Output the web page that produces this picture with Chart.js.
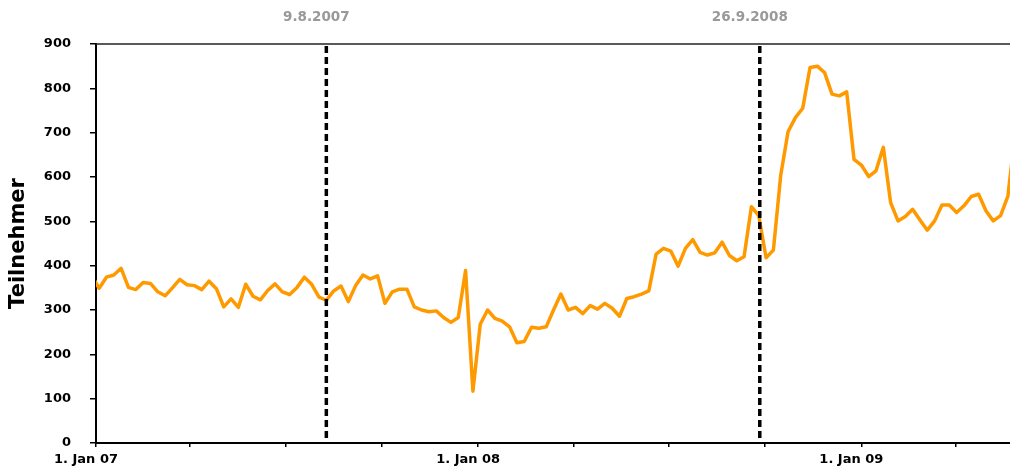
<!DOCTYPE html>
<html lang="de">
<head>
<meta charset="utf-8">
<title>Teilnehmer pro Woche</title>
<script src="https://cdn.jsdelivr.net/npm/chart.js@4/dist/chart.umd.min.js"></script>
<style>
  html, body { margin: 0; padding: 0; background: #fff; }
  #wrap { width: 1010px; height: 470px; }
</style>
</head>
<body>
<div id="wrap"><canvas id="chart" width="1010" height="470"></canvas></div>
<script>
// Weekly participant counts, one value per week starting on the date below
const firstWeek = '2006-12-28';
const teilnehmer = [
  377,
  349, 374, 379, 394, 351, 346, 362, 360, 341, 332,
  350, 369, 357, 355, 346, 365, 348, 307, 325, 306,
  358, 331, 323, 344, 359, 341, 335, 351, 374, 358,
  329, 322, 343, 354, 319, 355, 379, 370, 377, 315,
  341, 347, 347, 307, 300, 296, 298, 283, 272, 283,
  389, 117, 268, 300, 281, 275, 262, 226, 229, 261,
  259, 262, 300, 336, 300, 306, 292, 310, 302, 315,
  304, 286, 326, 330, 336, 343, 426, 439, 433, 399,
  439, 459, 430, 424, 429, 453, 423, 411, 420, 533,
  513, 418, 435, 604, 702, 734, 755, 847, 850, 835,
  787, 783, 792, 640, 627, 601, 614, 667, 542, 501,
  511, 527, 503, 480, 501, 537, 537, 520, 535, 556,
  561, 524, 501, 513, 557, 700
];

// Axis ticks: quarter starts, labelled at the turn of the year
const tickDates = ['2007-01-01', '2007-04-01', '2007-07-01', '2007-10-01',
                   '2008-01-01', '2008-04-01', '2008-07-01', '2008-10-01',
                   '2009-01-01', '2009-04-01'];
const tickLabels = ['1. Jan 07', '', '', '', '1. Jan 08', '', '', '', '1. Jan 09', ''];
const axisStart = '2007-01-01';
const axisEnd = '2009-05-23';

// Event markers
const markerDates = ['2007-08-09', '2008-09-26'];
const markerLabels = ['9.8.2007', '26.9.2008'];

const yTicks = [0, 100, 200, 300, 400, 500, 600, 700, 800, 900];

function dayNum(iso) {
  const [y, m, d] = iso.split('-').map(Number);
  const [y0, m0, d0] = axisStart.split('-').map(Number);
  return (Date.UTC(y, m - 1, d) - Date.UTC(y0, m0 - 1, d0)) / 86400000;
}

const firstDay = dayNum(firstWeek);
const points = teilnehmer.map((v, i) => ({ x: firstDay + 7 * i, y: v }));
const tickDays = tickDates.map(dayNum);

const FONT = "'DejaVu Sans', Verdana, sans-serif";

// Top frame line, vertical event lines and their captions
const markerPlugin = {
  id: 'markers',
  afterDatasetsDraw(chart) {
    const { ctx, chartArea, scales } = chart;
    ctx.save();
    ctx.strokeStyle = '#222';
    ctx.lineWidth = 1.5;
    ctx.beginPath();
    ctx.moveTo(chartArea.left, chartArea.top);
    ctx.lineTo(chartArea.right, chartArea.top);
    ctx.stroke();

    markerDates.forEach((d, i) => {
      const x = scales.x.getPixelForValue(dayNum(d));
      ctx.strokeStyle = '#000';
      ctx.lineWidth = 3.5;
      ctx.setLineDash([7, 4]);
      ctx.beginPath();
      ctx.moveTo(x, chartArea.top + 2);
      ctx.lineTo(x, chartArea.bottom);
      ctx.stroke();
      ctx.setLineDash([]);
      ctx.fillStyle = '#999999';
      ctx.font = 'bold 13.5px ' + FONT;
      ctx.textAlign = 'center';
      ctx.textBaseline = 'middle';
      ctx.fillText(markerLabels[i], x - 10, 17);
    });
    ctx.restore();
  }
};

new Chart(document.getElementById('chart'), {
  type: 'line',
  data: {
    datasets: [{
      label: 'Teilnehmer',
      data: points,
      borderColor: '#FF9900',
      borderWidth: 3.5,
      pointRadius: 0,
      tension: 0,
      fill: false,
      clip: 0,
      borderJoinStyle: 'round',
      borderCapStyle: 'round'
    }]
  },
  options: {
    responsive: false,
    animation: false,
    layout: { padding: { top: 44, left: 0, right: 0, bottom: 0 } },
    plugins: { legend: { display: false }, tooltip: { enabled: false } },
    scales: {
      x: {
        type: 'linear',
        min: 0,
        max: dayNum(axisEnd),
        afterBuildTicks(scale) { scale.ticks = tickDays.map(v => ({ value: v })); },
        afterFit(scale) { scale.height = 27; },
        grid: { drawOnChartArea: false, drawTicks: true, tickLength: 4, color: '#000', lineWidth: 1.5 },
        border: { display: true, color: '#000', width: 2 },
        ticks: {
          autoSkip: false,
          maxRotation: 0,
          padding: 5,
          labelOffset: -10,
          color: '#000',
          font: { family: FONT, size: 13, weight: 'bold' },
          callback: (v, i) => tickLabels[i]
        }
      },
      y: {
        min: yTicks[0],
        max: yTicks[yTicks.length - 1],
        afterBuildTicks(scale) { scale.ticks = yTicks.map(v => ({ value: v })); },
        afterFit(scale) { scale.width = 96; },
        grid: { drawOnChartArea: false, drawTicks: true, tickLength: 6, color: '#000', lineWidth: 1.5 },
        border: { display: true, color: '#000', width: 2 },
        ticks: {
          padding: 19,
          color: '#000',
          font: { family: FONT, size: 13, weight: 'bold' }
        },
        title: {
          display: true,
          text: 'Teilnehmer',
          color: '#000',
          font: { family: FONT, size: 21, weight: 'bold' },
          padding: { top: 6, bottom: 0 }
        }
      }
    }
  },
  plugins: [markerPlugin]
});
</script>
</body>
</html>
